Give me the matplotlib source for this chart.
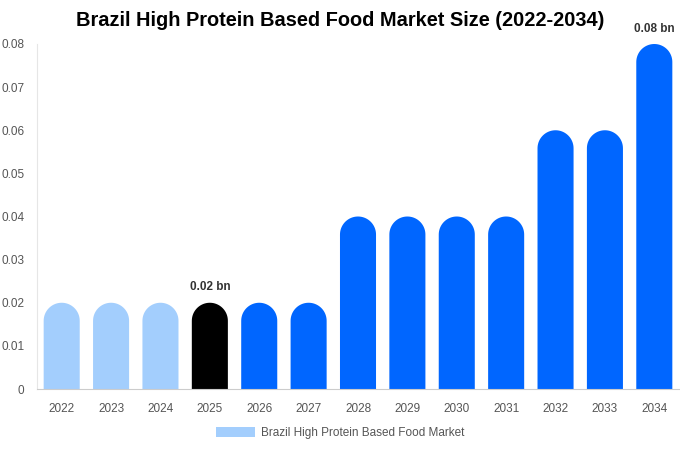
import matplotlib.pyplot as plt
from matplotlib.patches import PathPatch, Patch
from matplotlib.path import Path
import numpy as np

plt.rcParams['font.family'] = ['Liberation Sans', 'DejaVu Sans']

years = ['2022', '2023', '2024', '2025', '2026', '2027', '2028',
         '2029', '2030', '2031', '2032', '2033', '2034']
values = [0.02, 0.02, 0.02, 0.02, 0.02, 0.02, 0.04,
          0.04, 0.04, 0.04, 0.06, 0.06, 0.08]
colors = ['#a3cefd'] * 3 + ['#000000'] + ['#0066ff'] * 9
labelled = {3: '0.02 bn', 12: '0.08 bn'}

fig = plt.figure(figsize=(6.8, 4.5), dpi=100)
ax = fig.add_axes([37 / 680, 61 / 450, 642 / 680, 345 / 450])
ax.set_xlim(-0.5, len(years) - 0.5)
ax.set_ylim(0, 0.08)

# bar with a half-round top (radius converted from pixels to data units)
w = 0.73
px_x = 642 / len(years)
px_y = 345 / 0.08
ry = (w * px_x / 2) / px_y


def rounded_bar(x, v):
    t = np.linspace(0, np.pi, 40)
    xs = np.concatenate([[x + w / 2], x + w / 2 * np.cos(t), [x - w / 2]])
    ys = np.concatenate([[0], v - ry + ry * np.sin(t), [0]])
    return Path(np.column_stack([xs, ys]), closed=False)


for i, (v, c) in enumerate(zip(values, colors)):
    ax.add_patch(PathPatch(rounded_bar(i, v), facecolor=c, edgecolor='none'))
    if i in labelled:
        ax.text(i, v + 0.0022, labelled[i], ha='center', va='bottom',
                fontsize=8.5, fontweight='bold', color='#333333')

ax.set_xticks(range(len(years)))
ax.set_xticklabels(years)
ax.set_yticks([0, 0.01, 0.02, 0.03, 0.04, 0.05, 0.06, 0.07, 0.08])
ax.set_yticklabels(['0', '0.01', '0.02', '0.03', '0.04', '0.05', '0.06', '0.07', '0.08'])
ax.tick_params(length=0, labelsize=8.5, colors='#555555')
ax.tick_params(axis='x', pad=10)
ax.tick_params(axis='y', pad=9)
for s in ['top', 'right']:
    ax.spines[s].set_visible(False)
ax.spines['left'].set_color('#e6e6e6')
ax.spines['bottom'].set_color('#cccccc')

fig.text(340 / 680, 1 - 21 / 450, 'Brazil High Protein Based Food Market Size (2022-2034)',
         ha='center', va='center', fontsize=14.4, fontweight='bold', color='#000000')

fig.legend(handles=[Patch(color='#a3cefd', lw=0)],
           labels=['Brazil High Protein Based Food Market'],
           loc='center', bbox_to_anchor=(340 / 680, 1 - 433 / 450),
           frameon=False, fontsize=8.5, labelcolor='#555555',
           handlelength=3.3, handleheight=1.0, handletextpad=0.5)

fig.savefig('out.png', dpi=100)
